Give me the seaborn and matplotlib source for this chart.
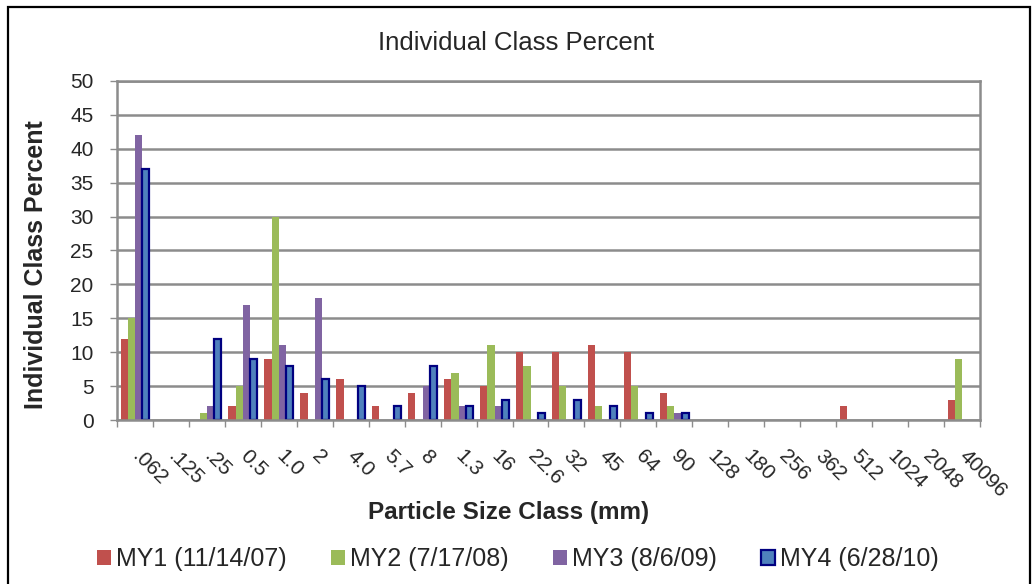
import numpy as np
import pandas as pd
import matplotlib
matplotlib.use("Agg")
import matplotlib.pyplot as plt
from matplotlib.patches import Patch, Rectangle
import seaborn as sns

# particle size classes (mm), as labelled on the chart
sizes = [".062", ".125", ".25", "0.5", "1.0", "2", "4.0", "5.7", "8", "1.3",
         "16", "22.6", "32", "45", "64", "90", "128", "180", "256", "362",
         "512", "1024", "2048", "40096"]

surveys = ["MY1 (11/14/07)", "MY2 (7/17/08)", "MY3 (8/6/09)", "MY4 (6/28/10)"]

# individual class percent per survey
my1 = [12, 0, 0, 2, 9, 4, 6, 2, 4, 6, 5, 10, 10, 11, 10, 4, 0, 0, 0, 0, 2, 0, 0, 3]
my2 = [15, 0, 1, 5, 30, 0, 0, 0, 0, 7, 11, 8, 5, 2, 5, 2, 0, 0, 0, 0, 0, 0, 0, 9]
my3 = [42, 0, 2, 17, 11, 18, 0, 0, 5, 2, 2, 0, 0, 0, 0, 1, 0, 0, 0, 0, 0, 0, 0, 0]
my4 = [37, 0, 12, 9, 8, 6, 5, 2, 8, 2, 3, 1, 3, 2, 1, 1, 0, 0, 0, 0, 0, 0, 0, 0]

colors = ["#C0504D", "#9BBB59", "#8064A2", "#4F81BD"]
edge_blue = "#000080"
grid_grey = "#8C8C8C"

df = pd.DataFrame({
    "size": sizes * 4,
    "pct": my1 + my2 + my3 + my4,
    "survey": np.repeat(surveys, len(sizes)),
})

sns.set_theme(style="white")
plt.rcParams["font.family"] = ["Liberation Sans", "DejaVu Sans"]

fig = plt.figure(figsize=(10.32, 5.84), dpi=100)
ax = fig.add_axes([117 / 1032, 1 - 420 / 584, 863 / 1032, 339 / 584])

sns.barplot(data=df, x="size", y="pct", hue="survey", order=sizes,
            hue_order=surveys, palette=colors, saturation=1, width=0.8,
            errorbar=None, legend=False, ax=ax)

# MY4 bars get the dark outline; hide empty bars
for i, cont in enumerate(ax.containers):
    for bar in cont:
        bar.set_linewidth(0)
        if bar.get_height() == 0:
            bar.set_visible(False)
        elif i == 3:
            bar.set_edgecolor(edge_blue)
            bar.set_linewidth(1.6)

ax.set_xlim(-0.5, len(sizes) - 0.5)
ax.set_ylim(0, 50)
ax.set_yticks(range(0, 51, 5))
ax.yaxis.grid(True, color=grid_grey, linewidth=1.8)
ax.set_axisbelow(True)
for sp in ax.spines.values():
    sp.set_color(grid_grey)
    sp.set_linewidth(1.8)

ax.set_xticks(range(len(sizes)))
ax.set_xticklabels(sizes, rotation=-45, ha="left", va="center",
                   rotation_mode="anchor", fontsize=15)
ax.set_xticks(np.arange(-0.5, len(sizes)), minor=True)
ax.tick_params(axis="x", which="major", length=0, pad=24)
ax.tick_params(axis="x", which="minor", length=5, width=1, color=grid_grey,
               direction="out", bottom=True)
ax.tick_params(axis="y", length=5, width=1, color=grid_grey, direction="out",
               left=True, labelsize=15, pad=12)

ax.set_xlabel("")
ax.set_ylabel("")
fig.text(0.5, 1 - 43 / 584, "Individual Class Percent", ha="center",
         va="center", fontsize=18.5)
fig.text(36 / 1032, 1 - 265 / 584, "Individual Class Percent", rotation=90,
         ha="center", va="center", fontsize=18, fontweight="bold")
fig.text(509 / 1032, 1 - 513 / 584, "Particle Size Class (mm)", ha="center",
         va="center", fontsize=17.5, fontweight="bold")

handles = [Patch(facecolor=c, edgecolor="none") for c in colors[:3]]
handles.append(Patch(facecolor=colors[3], edgecolor=edge_blue, linewidth=1.6))
fig.legend(handles, surveys, loc="center", bbox_to_anchor=(0.502, 1 - 559 / 584),
           ncol=4, frameon=False, fontsize=18, handlelength=0.55,
           handleheight=0.55, handletextpad=0.2, columnspacing=1.78)

# outer chart border
fig.patches.append(Rectangle((8 / 1032, -0.02), 1022 / 1032, 1.02 - 7 / 584,
                             transform=fig.transFigure, fill=False,
                             edgecolor="black", linewidth=1.6))

fig.savefig("out.png", dpi=100)
